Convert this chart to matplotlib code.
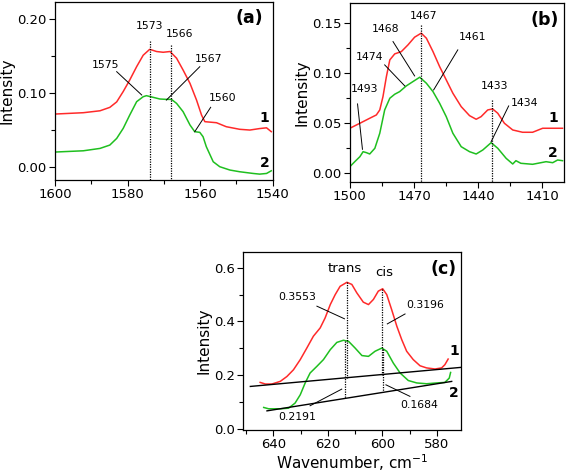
import numpy as np
import matplotlib
matplotlib.use("Agg")
import matplotlib.pyplot as plt
from matplotlib.ticker import MultipleLocator

# ---------------- data ----------------
# Panel (a)
a_red_x = [1600, 1592.2, 1587.6, 1584.9, 1583.0, 1581.2, 1579.4, 1577.5, 1575.7, 1573.9,
           1572.0, 1570.2, 1568.3, 1566.5, 1564.7, 1562.8, 1561.0, 1559.6, 1558.7, 1555.5,
           1552.8, 1549.1, 1546.3, 1543.6, 1541.7, 1540.4]
a_red_y = [0.0716, 0.0734, 0.076, 0.0806, 0.088, 0.102, 0.1176, 0.1356, 0.151, 0.159,
           0.156, 0.155, 0.156, 0.147, 0.131, 0.113, 0.0905, 0.070, 0.0613, 0.0599,
           0.0545, 0.051, 0.050, 0.052, 0.053, 0.0478]
a_grn_x = [1600, 1592.2, 1587.6, 1584.9, 1583.0, 1581.2, 1579.4, 1577.5, 1575.7, 1574.8,
           1572.9, 1571.1, 1569.3, 1567.9, 1566.5, 1564.7, 1562.8, 1561.5, 1560.1, 1559.2,
           1558.3, 1556.4, 1554.6, 1551.8, 1549.1, 1545.4, 1543.6, 1541.7, 1540.4]
a_grn_y = [0.0203, 0.022, 0.0252, 0.0297, 0.0387, 0.0523, 0.0703, 0.0883, 0.095, 0.0964,
           0.0941, 0.0919, 0.0914, 0.0914, 0.086, 0.0748, 0.0568, 0.0478, 0.0469, 0.041,
           0.0275, 0.0072, 0.0005, -0.004, -0.0063, -0.0086, -0.0095, -0.0086, -0.005]

# Panel (b)
b_red_x = [1500, 1495.3, 1490.7, 1487.6, 1486.0, 1484.5, 1482.9, 1481.3, 1479.0, 1475.9,
           1472.8, 1469.7, 1466.6, 1464.2, 1461.1, 1458.0, 1454.9, 1451.8, 1447.9, 1444.0,
           1440.9, 1438.6, 1435.5, 1433.2, 1430.8, 1427.7, 1423.8, 1419.2, 1414.5, 1409.8,
           1400.5]
b_red_y = [0.0444, 0.0494, 0.0544, 0.0577, 0.0627, 0.076, 0.096, 0.1127, 0.1187, 0.121,
           0.1277, 0.1354, 0.1394, 0.1344, 0.121, 0.106, 0.0927, 0.0794, 0.066, 0.057,
           0.0534, 0.056, 0.0627, 0.0637, 0.0594, 0.0494, 0.0427, 0.0404, 0.0404, 0.0444,
           0.0444]
b_grn_x = [1500, 1497.7, 1495.3, 1493.8, 1492.2, 1490.7, 1488.3, 1486.0, 1483.7, 1481.3,
           1479.0, 1476.7, 1473.6, 1470.5, 1467.3, 1464.2, 1461.1, 1458.0, 1454.9, 1451.8,
           1447.9, 1444.0, 1440.9, 1437.8, 1433.9, 1430.8, 1426.9, 1423.8, 1422.3, 1420.0,
           1414.5, 1408.2, 1405.1, 1402.8, 1400.5]
b_grn_y = [0.006, 0.011, 0.016, 0.021, 0.020, 0.0187, 0.0244, 0.0394, 0.0627, 0.0744,
           0.0784, 0.081, 0.0867, 0.091, 0.0954, 0.0894, 0.081, 0.0694, 0.056, 0.0394,
           0.026, 0.021, 0.0187, 0.0227, 0.030, 0.0244, 0.0144, 0.0087, 0.012, 0.0094,
           0.0084, 0.011, 0.010, 0.0127, 0.012]

# Panel (c)
c_red_x = [644.8, 642.9, 640.5, 637.4, 635.0, 632.6, 630.1, 627.7, 625.3, 622.8,
           621.0, 619.1, 617.3, 615.5, 613.0, 611.2, 609.4, 607.0, 605.1, 603.3,
           601.5, 599.9, 598.4, 596.6, 594.7, 592.9, 591.1, 588.7, 586.2, 583.8,
           580.7, 578.3, 577.1, 575.9]
c_red_y = [0.173, 0.167, 0.167, 0.177, 0.195, 0.220, 0.258, 0.301, 0.345, 0.376,
           0.413, 0.463, 0.500, 0.531, 0.546, 0.538, 0.507, 0.472, 0.463, 0.482,
           0.513, 0.522, 0.500, 0.444, 0.382, 0.332, 0.289, 0.258, 0.235, 0.227,
           0.223, 0.227, 0.239, 0.260]
c_grn_x = [643.5, 641.7, 637.4, 634.4, 632.0, 630.1, 628.3, 626.5, 624.0, 621.6,
           619.1, 616.7, 614.3, 612.4, 610.0, 607.5, 605.1, 602.7, 600.2, 598.4,
           596.0, 593.5, 590.5, 587.4, 583.8, 580.1, 577.1, 575.5, 575.0]
c_grn_y = [0.0797, 0.0747, 0.0747, 0.077, 0.096, 0.127, 0.171, 0.208, 0.233, 0.258,
           0.295, 0.322, 0.330, 0.326, 0.301, 0.273, 0.270, 0.289, 0.301, 0.289,
           0.245, 0.208, 0.180, 0.171, 0.168, 0.171, 0.173, 0.189, 0.210]
c_base1_x = [648.4, 571.2]
c_base1_y = [0.158, 0.229]
c_base2_x = [642.3, 574.6]
c_base2_y = [0.067, 0.1767]
c_trans_peak = [613.0, 613.7]   # red, green
c_cis_peak = [600.2, 599.6]     # red, green
c_values = ["0.3553", "0.3196", "0.2191", "0.1684"]

RED = "#ff2a2a"
GREEN = "#1fbf1f"

plt.rcParams['font.family'] = ['DejaVu Sans']

fig = plt.figure(figsize=(5.67, 4.74), dpi=100)


def style(ax, xmaj, xmin, ymaj, ymin, fmt):
    ax.xaxis.set_major_locator(MultipleLocator(xmaj))
    ax.xaxis.set_minor_locator(MultipleLocator(xmin))
    ax.yaxis.set_major_locator(MultipleLocator(ymaj))
    ax.yaxis.set_minor_locator(MultipleLocator(ymin))
    ax.yaxis.set_major_formatter(plt.FormatStrFormatter(fmt))
    ax.tick_params(which='major', direction='out', length=4, width=0.8, labelsize=9.5, pad=2)
    ax.tick_params(which='minor', direction='out', length=3, width=0.8)
    for s in ax.spines.values():
        s.set_linewidth(0.9)


def leader(ax, x0, y0, x1, y1):
    ax.plot([x0, x1], [y0, y1], color='black', lw=0.7)


def vdot(ax, x, y0, y1):
    ax.plot([x, x], [y0, y1], color='black', lw=0.9, ls=(0, (1, 1)))


ann_fs = 7.8

# ---------------- (a) ----------------
ax = fig.add_axes([0.097, 0.620, 0.384, 0.376])
ax.plot(a_red_x, a_red_y, color=RED, lw=1.1)
ax.plot(a_grn_x, a_grn_y, color=GREEN, lw=1.1)
ax.set_xlim(1600, 1540)
ax.set_ylim(-0.0176, 0.223)
style(ax, 20, 10, 0.10, 0.05, '%.2f')
ax.set_ylabel('Intensity', fontsize=11, labelpad=2)
vdot(ax, 1573.7, 0.170, -0.0176)
vdot(ax, 1568.1, 0.165, -0.0176)
ax.text(1573.9, 0.1905, '1573', fontsize=ann_fs, ha='center', va='center')
ax.text(1565.6, 0.179, '1566', fontsize=ann_fs, ha='center', va='center')
ax.text(1586.0, 0.138, '1575', fontsize=ann_fs, ha='center', va='center')
leader(ax, 1583.0, 0.1288, 1576.1, 0.0973)
ax.text(1557.8, 0.1455, '1567', fontsize=ann_fs, ha='center', va='center')
leader(ax, 1560.1, 0.1355, 1569.3, 0.0905)
ax.text(1553.7, 0.0937, '1560', fontsize=ann_fs, ha='center', va='center')
leader(ax, 1557.1, 0.0807, 1561.5, 0.0477)
ax.text(1542.2, 0.066, '1', fontsize=10, fontweight='bold', ha='center', va='center')
ax.text(1542.2, 0.005, '2', fontsize=10, fontweight='bold', ha='center', va='center')
ax.text(0.894, 0.908, '(a)', transform=ax.transAxes, fontsize=12.5, fontweight='bold',
        ha='center', va='center')

# ---------------- (b) ----------------
ax = fig.add_axes([0.617, 0.616, 0.377, 0.378])
ax.plot(b_red_x, b_red_y, color=RED, lw=1.1)
ax.plot(b_grn_x, b_grn_y, color=GREEN, lw=1.1)
ax.set_xlim(1500, 1400)
ax.set_ylim(-0.0093, 0.1697)
style(ax, 30, 15, 0.05, 0.025, '%.2f')
ax.set_ylabel('Intensity', fontsize=11, labelpad=2)
vdot(ax, 1466.9, 0.1477, -0.0093)
vdot(ax, 1433.6, 0.0727, -0.0093)
ax.text(1465.5, 0.1567, '1467', fontsize=ann_fs, ha='center', va='center')
ax.text(1483.2, 0.1434, '1468', fontsize=ann_fs, ha='center', va='center')
leader(ax, 1479.8, 0.131, 1469.7, 0.0967)
ax.text(1490.7, 0.1154, '1474', fontsize=ann_fs, ha='center', va='center')
leader(ax, 1483.7, 0.1077, 1474.3, 0.0867)
ax.text(1493.0, 0.0834, '1493', fontsize=ann_fs, ha='center', va='center')
leader(ax, 1496.4, 0.0687, 1494.1, 0.0234)
ax.text(1442.5, 0.1354, '1461', fontsize=ann_fs, ha='center', va='center')
leader(ax, 1449.5, 0.1227, 1460.8, 0.0827)
ax.text(1432.4, 0.0867, '1433', fontsize=ann_fs, ha='center', va='center')
ax.text(1418.4, 0.0694, '1434', fontsize=ann_fs, ha='center', va='center')
leader(ax, 1425.7, 0.0667, 1433.9, 0.031)
ax.text(1404.9, 0.0544, '1', fontsize=10, fontweight='bold', ha='center', va='center')
ax.text(1404.9, 0.020, '2', fontsize=10, fontweight='bold', ha='center', va='center')
ax.text(0.911, 0.905, '(b)', transform=ax.transAxes, fontsize=12.5, fontweight='bold',
        ha='center', va='center')

# ---------------- (c) ----------------
ax = fig.add_axes([0.429, 0.093, 0.384, 0.376])
ax.plot(c_red_x, c_red_y, color=RED, lw=1.1)
ax.plot(c_grn_x, c_grn_y, color=GREEN, lw=1.1)
ax.plot(c_base1_x, c_base1_y, color='black', lw=1.0)
ax.plot(c_base2_x, c_base2_y, color='black', lw=1.0)
ax.set_xlim(651, 571.2)
ax.set_ylim(-0.004, 0.66)
style(ax, 20, 10, 0.2, 0.1, '%.1f')
ax.set_ylabel('Intensity', fontsize=11, labelpad=2)
ax.set_xlabel('Wavenumber, cm$^{-1}$', fontsize=11, labelpad=1)


def base_at(bx, by, x):
    return np.interp(x, bx[::-1], by[::-1])


def curve_at(cx, cy, x):
    return np.interp(x, cx[::-1], cy[::-1])


# dotted drop lines: red peak -> upper baseline, green peak -> lower baseline
for xr, xg in [(c_trans_peak[0], c_trans_peak[1]), (c_cis_peak[0], c_cis_peak[1])]:
    vdot(ax, xr, curve_at(c_red_x, c_red_y, xr), base_at(c_base1_x, c_base1_y, xr))
    vdot(ax, xg, curve_at(c_grn_x, c_grn_y, xg), base_at(c_base2_x, c_base2_y, xg))

ax.text(613.9, 0.596, 'trans', fontsize=9.5, ha='center', va='center')
ax.text(599.3, 0.581, 'cis', fontsize=9.5, ha='center', va='center')
ax.text(631.1, 0.490, c_values[0], fontsize=ann_fs, ha='center', va='center')
leader(ax, 624.0, 0.457, 613.9, 0.410)
ax.text(584.4, 0.463, c_values[1], fontsize=ann_fs, ha='center', va='center')
leader(ax, 591.7, 0.428, 598.2, 0.391)
ax.text(631.1, 0.044, c_values[2], fontsize=ann_fs, ha='center', va='center')
leader(ax, 626.5, 0.086, 614.9, 0.148)
ax.text(586.6, 0.090, c_values[3], fontsize=ann_fs, ha='center', va='center')
leader(ax, 589.9, 0.121, 598.7, 0.164)
ax.text(573.8, 0.289, '1', fontsize=10, fontweight='bold', ha='center', va='center',
        clip_on=False)
ax.text(573.8, 0.133, '2', fontsize=10, fontweight='bold', ha='center', va='center',
        clip_on=False)
ax.text(0.919, 0.903, '(c)', transform=ax.transAxes, fontsize=12.5, fontweight='bold',
        ha='center', va='center')

fig.savefig('out.png', dpi=100)
